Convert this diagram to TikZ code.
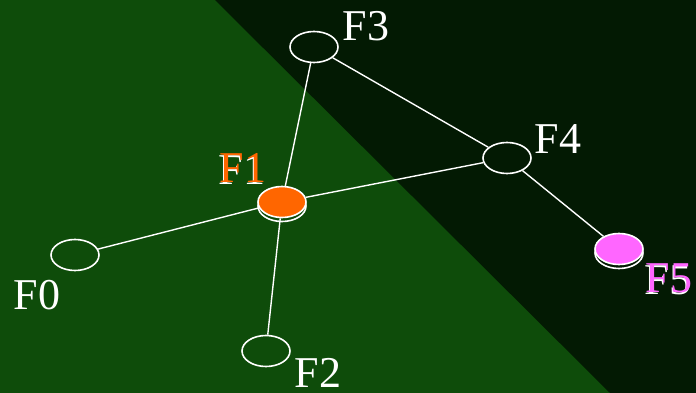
\documentclass[tikz,border=0pt]{standalone}
\usepackage{fontspec}
\setmainfont{Liberation Serif}
\usepackage{xcolor}
\usetikzlibrary{shapes.geometric}

\definecolor{bgleft}{RGB}{14,76,10}
\definecolor{bgright}{RGB}{3,26,3}
\definecolor{forange}{RGB}{255,102,0}
\definecolor{fpink}{RGB}{255,102,255}

\begin{document}
\begin{tikzpicture}[
  x=1pt, y=-1pt,
  fnode/.style={draw=white, ellipse, line width=1.6pt, minimum width=48pt,
    minimum height=31pt, inner sep=0pt},
  hot/.style={fnode, fill=#1},
  flabel/.style={font=\fontsize{44}{44}\selectfont, text=white, inner sep=0pt},
  link/.style={draw=white, line width=1.4pt}
]
% background
\fill[bgleft] (0,0) rectangle (696,393);
\fill[bgright] (215,0) -- (696,0) -- (696,393) -- (610,393) -- cycle;
\useasboundingbox (0,0) rectangle (696,393);

% plain nodes
\node[fnode] (f0) at (75,255) {};
\node[fnode] (f2) at (266,351) {};
\node[fnode] (f3) at (314,47) {};
\node[fnode] (f4) at (507,158) {};

% highlighted nodes, with a shadow ring below
\node[fnode] (f1s) at (282,206) {};
\node[hot=forange] (f1) at (282,202) {};
\node[fnode] (f5s) at (619,253) {};
\node[hot=fpink] (f5) at (619,249) {};

\draw[link] (f3) -- (f1);
\draw[link] (f3) -- (f4);
\draw[link] (f1) -- (f4);
\draw[link] (f1) -- (f0);
\draw[link] (f1) -- (f2);
\draw[link] (f4) -- (f5);

% labels
\node[flabel] (l0) at (37,295) {F0};
\node[flabel] (l2) at (318,373) {F2};
\node[flabel] (l3) at (366,26) {F3};
\node[flabel] (l4) at (558,139) {F4};
\node[flabel] at (242,170) {F1};
\node[flabel, text=forange] (l1) at (243,168) {F1};
\node[flabel] at (668,280) {F5};
\node[flabel, text=fpink] (l5) at (669,278) {F5};
\end{tikzpicture}
\end{document}
